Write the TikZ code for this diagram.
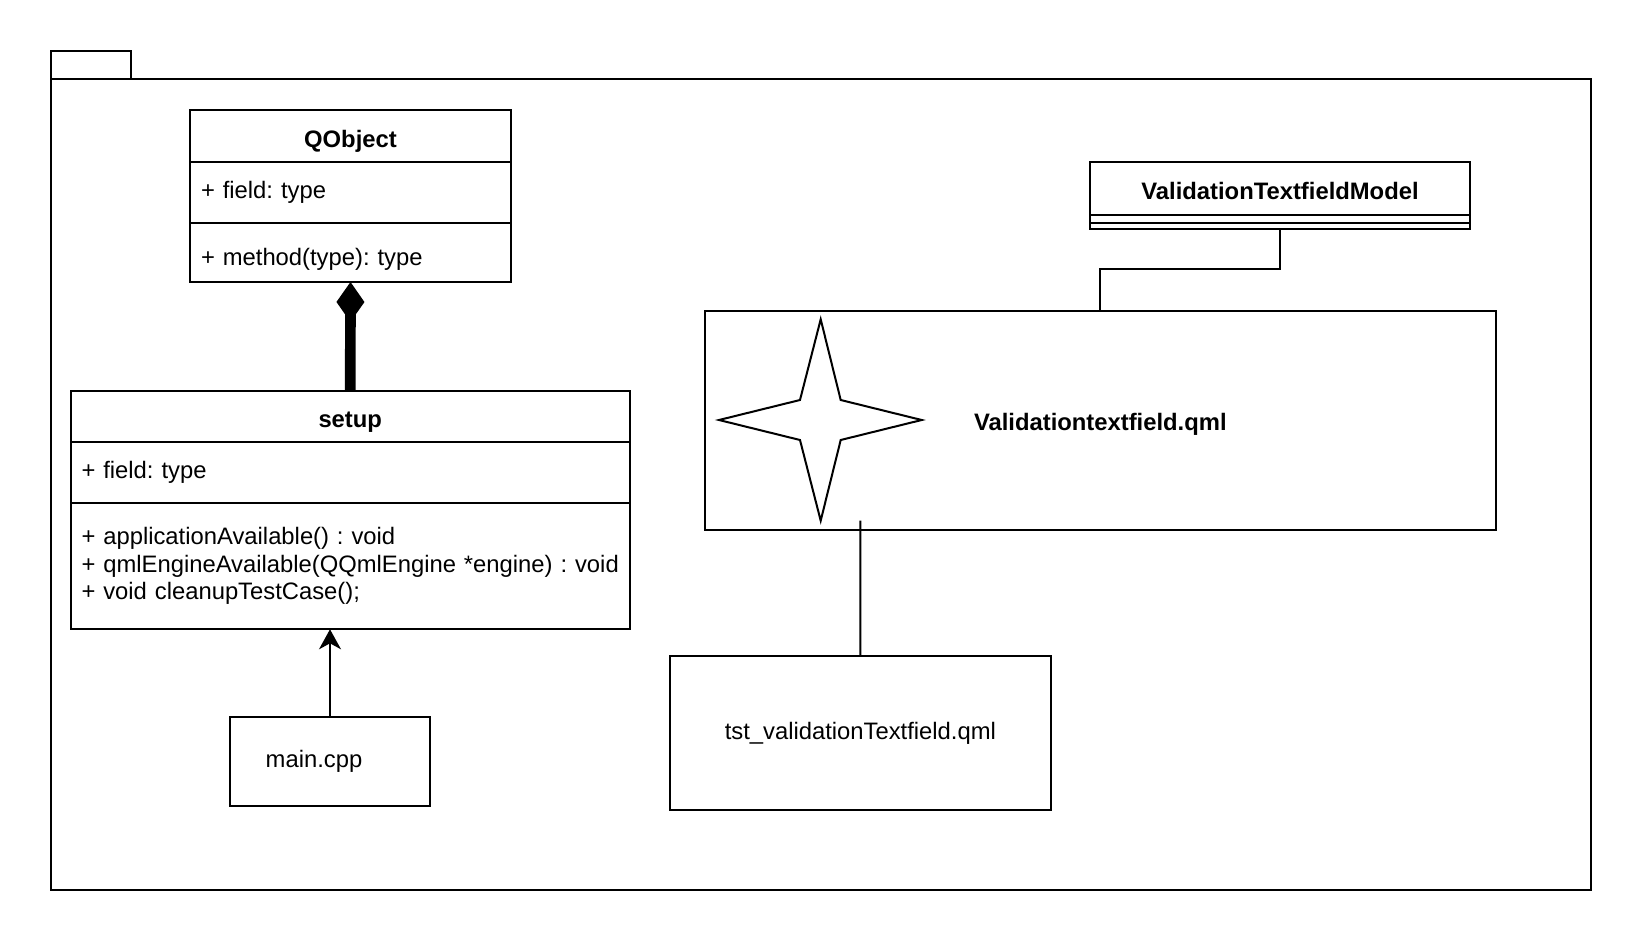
\documentclass[tikz,border=0pt]{standalone}
\usepackage{fontspec}
\setmainfont{Liberation Sans}
\usepackage{tikz}
\usetikzlibrary{arrows.meta, positioning}

\tikzset{
    umlbox/.style={draw, rectangle, line width=2pt, outer sep=0pt, inner sep=0pt},
    classhead/.style={umlbox, font=\fontsize{23.8}{27.7}\selectfont\bfseries\frenchspacing, text centered, text height=22pt, text depth=0pt},
    compart/.style={umlbox, align=left, inner xsep=11pt, font=\fontsize{23.8}{27.7}\selectfont\frenchspacing}
}

\begin{document}
\begin{tikzpicture}[x=1pt, y=-1pt, font=\fontsize{23.8}{27.7}\selectfont\frenchspacing]

    \useasboundingbox (0,0) rectangle (1642,942);

    % Package frame with its tab
    \node (pkgtab) [umlbox, minimum width=80pt, minimum height=28.3pt, anchor=north west] at (50.7,50.7) {};
    \node (pkg) [umlbox, minimum width=1539.8pt, minimum height=811.3pt, anchor=north west] at (50.7,79) {};

    % Class QObject
    \node (qobject) [classhead, minimum width=321pt, minimum height=52.3pt, anchor=north west] at (190,110) {QObject};
    \node (qobjectfields) [compart, below=0pt of qobject, minimum height=61pt, text width=299pt] {+ field: type};
    \node (qobjectmethods) [compart, below=0pt of qobjectfields, minimum height=58.7pt, text width=299pt,
        text height=26.5pt, text depth=0pt] {+ method(type): type};

    % Class setup
    \node (setup) [classhead, minimum width=559.5pt, minimum height=51.6pt, anchor=north west] at (70.5,390.7) {setup};
    \node (setupfields) [compart, below=0pt of setup, minimum height=60.4pt, text width=537.5pt] {+ field: type};
    \node (setupmethods) [compart, below=0pt of setupfields, minimum height=126.6pt, text width=537.5pt]
        {+ applicationAvailable() : void\\+ qmlEngineAvailable(QQmlEngine *engine) : void\\+ void cleanupTestCase();};

    % main.cpp
    \node (main) [umlbox, minimum width=200pt, minimum height=89pt, anchor=north west,
        label={[xshift=-16pt]center:main.cpp}] at (230,716.7) {};

    % Class ValidationTextfieldModel
    \node (model) [classhead, minimum width=380pt, minimum height=52.7pt, anchor=north west] at (1090,162.3) {ValidationTextfieldModel};
    \node (modelfields) [umlbox, below=0pt of model, minimum width=380pt, minimum height=7.7pt] {};
    \node (modelmethods) [umlbox, below=0pt of modelfields, minimum width=380pt, minimum height=6.6pt] {};

    % Validationtextfield.qml with the star
    \node (qml) [umlbox, font=\fontsize{23.8}{27.7}\selectfont\bfseries, text height=20pt, text depth=0pt,
        minimum width=790.7pt, minimum height=219.3pt, anchor=north west] at (705,310.7) {Validationtextfield.qml};
    \coordinate (starc) at (820.7,420);
    \draw[line width=2pt, line join=miter] (starc) ++(0,-100.7) -- ++(-20.7,80.7) -- ++(-81,20) -- ++(81,20)
        -- ++(20.7,80.7) -- ++(20,-80.7) -- ++(81,-20) -- ++(-81,-20) -- cycle;
    \coordinate (qmlfoot) at (860.3,520.7);

    % tst_validationTextfield.qml
    \node (tst) [umlbox, minimum width=380.7pt, minimum height=154pt, anchor=north west] at (670,656) {tst\_validationTextfield.qml};

    % Connectors
    \draw[line width=10.7pt, -{Diamond[length=40pt, width=28pt, line width=0pt]}] (setup.north) -- (qobjectmethods.south);
    \draw[line width=2pt, -{Stealth[length=20pt, width=22pt, inset=6pt]}] (main.north) -- (main.north |- setupmethods.south);
    \draw[line width=2pt] (modelmethods.south) -- ++(0,40) -| (qml.north);
    \draw[line width=2pt] (tst.north) -- (qmlfoot);

\end{tikzpicture}
\end{document}
